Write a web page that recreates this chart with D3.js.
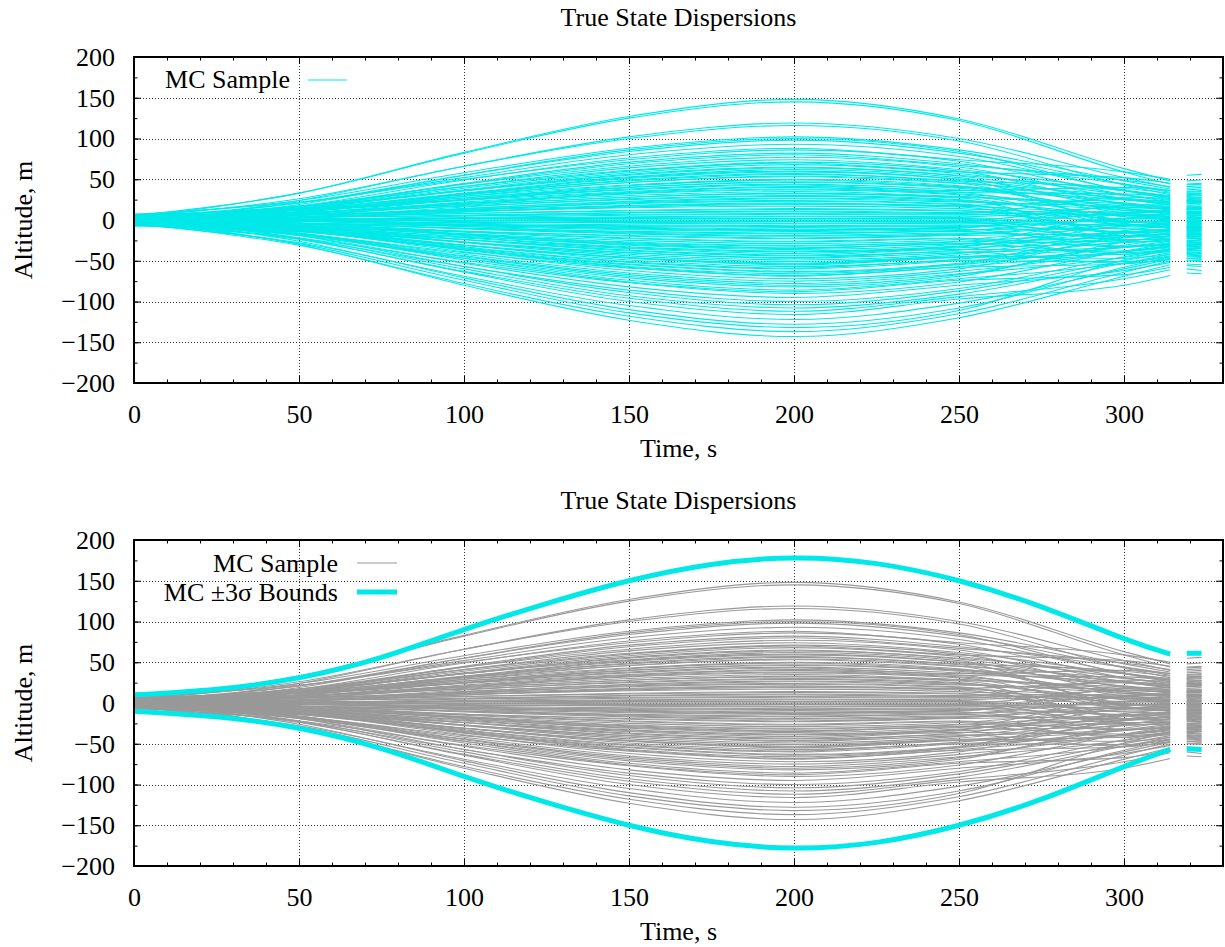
<!DOCTYPE html>
<html><head><meta charset="utf-8">
<script src="https://cdn.jsdelivr.net/npm/d3@7"></script>
<style>body{margin:0;background:#fff}svg{display:block}text{font-family:"Liberation Serif","DejaVu Serif",serif;font-size:26px;fill:#000}</style>
</head><body>
<script>
// ---- data ----
const knotTimes = [0, 50, 100, 150, 200, 250, 300, 314];
const tailTimes = [319, 323.5];
const sampleKnots = [
[3,33,83,127,148,124,63,48],[5,33,82,125,145,122,59,44],[-2,24,66,102,119,100,52,40],[4,26,66,100,116,97,43,31],
[6,24,58,88,102,86,48,38],[-4,19,55,86,100,84,36,26],[1,21,55,84,98,82,44,34],[7,22,50,74,86,72,31,22],
[-6,14,45,71,82,69,44,36],[2,17,44,66,77,65,26,18],[-1,15,41,64,74,62,36,29],[5,17,41,61,71,60,19,12],
[-3,13,37,58,68,57,31,24],[0,14,36,56,65,55,36,30],[6,16,36,53,62,52,14,8],[-5,10,32,51,59,50,26,20],
[2,13,32,48,56,47,20,14],[-2,10,29,46,53,45,30,25],[4,12,29,43,50,42,9,4],[-6,7,25,40,47,40,21,16],
[1,10,25,38,44,37,25,21],[7,12,24,35,41,34,4,0],[-4,6,20,33,38,32,14,10],[3,9,20,30,35,29,20,17],
[-1,6,18,28,32,27,-1,-4],[5,9,17,25,29,24,12,9],[-3,4,14,22,26,22,16,13],[2,6,13,20,23,19,-6,-8],
[-5,2,10,17,20,17,8,6],[6,7,11,15,17,14,5,3],[0,3,8,12,14,12,-11,-12],[-7,-1,5,9,11,9,6,5],
[4,4,5,7,8,7,-1,-2],[-2,0,2,4,5,4,11,11],[3,2,2,2,2,2,-15,-15],[-1,-1,-1,-2,-2,-2,7,7],
[5,1,-2,-4,-5,-4,-6,-6],[-6,-5,-6,-7,-8,-7,-21,-20],[2,-1,-6,-9,-11,-9,1,2],[-3,-4,-8,-12,-14,-12,-10,-9],
[7,0,-8,-15,-17,-14,-27,-25],[0,-4,-11,-17,-20,-17,-3,-1],[-5,-7,-14,-20,-23,-19,-16,-14],[3,-4,-14,-22,-26,-22,-33,-30],
[-2,-7,-17,-25,-29,-24,-8,-5],[6,-4,-17,-28,-32,-27,-21,-18],[-4,-9,-20,-30,-35,-29,-40,-36],[1,-8,-21,-33,-38,-32,-15,-11],
[-7,-12,-24,-35,-41,-34,-28,-24],[4,-7,-24,-38,-44,-37,-7,-3],[-1,-10,-27,-40,-47,-40,-33,-28],[2,-10,-28,-44,-51,-43,-21,-16],
[-6,-14,-31,-46,-54,-45,-47,-42],[5,-10,-31,-49,-57,-48,-26,-20],[-3,-14,-34,-52,-60,-50,-39,-33],[0,-13,-35,-54,-63,-53,-13,-7],
[3,-12,-36,-57,-66,-55,-33,-26],[-5,-17,-40,-59,-69,-58,-54,-47],[6,-12,-39,-62,-72,-60,-20,-13],[-2,-17,-42,-65,-75,-63,-39,-31],
[1,-16,-44,-67,-78,-66,-46,-38],[-4,-19,-47,-71,-82,-69,-27,-19],[4,-16,-47,-74,-86,-72,-53,-44],[-6,-22,-52,-77,-90,-76,-38,-29],
[2,-19,-53,-82,-95,-80,-62,-52],[-3,-23,-57,-86,-100,-84,-45,-35],[5,-19,-57,-89,-104,-87,-50,-40],[-1,-24,-63,-96,-112,-94,-72,-61],
[3,-23,-64,-100,-116,-97,-80,-68],[-5,-28,-69,-105,-122,-102,-60,-48],[2,-26,-71,-110,-128,-108,-58,-45],[-4,-31,-78,-118,-137,-115,-64,-50],
[1,-30,-80,-123,-143,-120,-69,-55],[-2,12,33,52,60,50,-4,-10],[5,12,25,37,43,36,40,36],[-6,3,16,26,30,25,-19,-22],
[1,3,6,9,10,8,28,27],[-2,-4,-7,-10,-12,-10,18,19],[4,-6,-19,-31,-36,-30,8,12],[-1,-12,-31,-47,-55,-46,-42,-37],
[-7,2,12,21,24,20,-25,-27],[-1,14,39,60,70,59,52,45],[3,-17,-49,-76,-88,-74,-67,-58],[-7,-13,-27,-40,-46,-39,-53,-48],
[-3,17,49,76,88,74,59,50],
[2,21,52,80,93,78,37,28],[-4,15,44,69,80,67,49,41],[3,15,36,55,64,54,25,19],[-6,9,31,49,57,48,39,33],
[5,14,31,46,54,45,-1,-6],[-1,10,27,42,49,41,27,22],[6,13,27,40,46,39,12,7],[-3,7,22,34,40,34,32,28],
[0,8,21,32,37,31,-6,-10],[4,9,19,28,33,28,18,15],[-7,2,14,23,27,23,6,3],[3,6,12,18,21,18,25,23],
[-2,3,10,16,19,16,-16,-18],[5,5,8,11,13,11,2,1],[-4,0,3,6,7,6,15,14],[1,1,2,3,4,3,-7,-7],
[-5,-2,0,1,1,1,-24,-24],[4,2,0,-1,-1,-1,16,16],[-6,-4,-3,-3,-4,-3,-2,-2],[2,0,-4,-6,-7,-6,-14,-13],
[-1,-2,-5,-8,-9,-8,9,10],[6,0,-6,-11,-13,-11,-32,-31],[-4,-5,-10,-14,-16,-13,2,4],[1,-4,-10,-16,-19,-16,-19,-17],
[-7,-8,-14,-19,-22,-18,-6,-4],[3,-4,-15,-23,-27,-23,-42,-39],[-2,-8,-18,-27,-31,-26,-15,-12],[5,-5,-18,-29,-34,-29,-25,-22],
[-3,-10,-22,-34,-39,-33,-4,0],[0,-9,-24,-37,-43,-36,-38,-34],[4,-8,-27,-42,-49,-41,-16,-11],[-5,-14,-31,-46,-53,-45,-34,-29],
[2,-11,-33,-51,-59,-50,-51,-45],[-1,-14,-36,-55,-64,-54,-22,-16],[6,-11,-37,-58,-68,-57,-39,-32],[-3,-18,-45,-69,-80,-67,-31,-23],
[1,-22,-60,-93,-108,-91,-53,-42],[-2,-29,-74,-114,-132,-111,-49,-36]
];
const sampleTails = [
[55,56],[44,45],[41,42],[33,33],[37,38],[27,28],[30,31],[24,24],[35,36],[20,21],[26,27],[14,14],[22,23],[31,32],[10,10],[18,19],
[16,16],[24,25],[6,6],[13,14],[20,21],[2,2],[8,9],[15,16],[-2,-2],[11,11],[12,13],[-6,-5],[4,5],[5,5],[-10,-10],[7,7],
[0,0],[9,10],[-13,-13],[6,6],[-4,-4],[-18,-19],[3,3],[-8,-8],[-23,-24],[-3,-3],[-12,-12],[-28,-29],[-7,-7],[-16,-17],[-34,-35],[-10,-10],
[-21,-22],[-5,-6],[-26,-27],[-15,-15],[-40,-41],[-19,-20],[-31,-32],[-9,-9],[-25,-25],[-45,-46],[-14,-14],[-30,-30],[-37,-38],[-18,-18],
[-43,-44],[-27,-28],[-50,-51],[-33,-34],[-39,-40],[-60,-62],[-65,-66],[-47,-48],[-44,-45],[-49,-50],[-54,-55],[-8,-8],[34,35],[-20,-20],
[25,26],[17,17],[10,11],[-36,-37],[-25,-26],[43,44],[-56,-57],[-47,-48],[48,49],
[29,30],[39,40],[21,22],[32,33],[-4,-4],[23,23],[9,9],[28,28],[-9,-9],[14,15],[2,3],[22,22],[-17,-17],[1,2],[13,13],[-6,-6],
[-22,-23],[15,15],[-1,-1],[-11,-11],[8,8],[-29,-30],[1,1],[-15,-16],[-2,-2],[-38,-38],[-13,-13],[-20,-21],[-2,-1],[-32,-33],[-11,-12],[-28,-28],
[-42,-43],[-17,-17],[-31,-31],[-22,-23],[-41,-42],[-35,-35]
];
const boundTimes = [0, 25, 50, 75, 100, 125, 150, 175, 200, 225, 250, 275, 300, 314];
const upperBound = [10, 17, 31, 56, 90, 122, 150, 170, 178, 171, 150, 118, 79, 60];
const lowerBound = [-10, -17, -31, -56, -90, -122, -150, -170, -178, -171, -150, -118, -78, -57];
const upperBoundTail = [61, 61];
const lowerBoundTail = [-56, -57];
const xMajorTicks = [0, 50, 100, 150, 200, 250, 300];
const xMinorTicks = d3.range(0, 331, 10);
const yMajorTicks = [-200, -150, -100, -50, 0, 50, 100, 150, 200];
const yMinorTicks = d3.range(-200, 201, 25);
const titleText = "True State Dispersions";
const xLabel = "Time, s";
const yLabel = "Altitude, m";

// ---- layout ----
const W = 1225, H = 947;
const CYAN = "#00e8e8", GRAY = "#999999";
const svg = d3.select("body").append("svg").attr("width", W).attr("height", H);
const x = d3.scaleLinear().domain([0, 330]).range([134, 1223]);

function panel(top, bottom, idx) {
  const y = d3.scaleLinear().domain([-200, 200]).range([bottom, top]);
  const g = svg.append("g");
  const cid = "clip" + idx;
  g.append("clipPath").attr("id", cid).append("rect")
    .attr("x", x(0)).attr("y", top).attr("width", x(330) - x(0)).attr("height", bottom - top);
  // grid
  const grid = g.append("g").attr("stroke", "#333").attr("stroke-width", 1).attr("stroke-dasharray", "1,2");
  grid.selectAll(".gx").data(xMajorTicks.filter(d => d > 0)).join("line")
    .attr("x1", d => Math.round(x(d)) + 0.5).attr("x2", d => Math.round(x(d)) + 0.5)
    .attr("y1", top).attr("y2", bottom);
  grid.selectAll(".gy").data(yMajorTicks.filter(d => d > -200 && d < 200)).join("line")
    .attr("y1", d => Math.round(y(d)) + 0.5).attr("y2", d => Math.round(y(d)) + 0.5)
    .attr("x1", x(0)).attr("x2", x(330));
  // axes ticks
  const mk = (axis, tr) => {
    const a = g.append("g").attr("transform", tr).call(axis);
    a.select(".domain").remove();
    a.selectAll("line").attr("stroke", "#000");
    a.attr("font-family", null).attr("font-size", null);
    return a;
  };
  mk(d3.axisBottom(x).tickValues(xMajorTicks).tickSize(-7).tickPadding(22).tickFormat(d3.format("d")), `translate(0,${bottom})`);
  mk(d3.axisBottom(x).tickValues(xMinorTicks).tickSize(-3.5).tickFormat(""), `translate(0,${bottom})`);
  mk(d3.axisTop(x).tickValues(xMajorTicks).tickSize(-7).tickFormat(""), `translate(0,${top})`);
  mk(d3.axisTop(x).tickValues(xMinorTicks).tickSize(-3.5).tickFormat(""), `translate(0,${top})`);
  mk(d3.axisLeft(y).tickValues(yMajorTicks).tickSize(-7).tickPadding(19).tickFormat(d3.format("d")), `translate(${x(0)},0)`);
  mk(d3.axisLeft(y).tickValues(yMinorTicks).tickSize(-3.5).tickFormat(""), `translate(${x(0)},0)`);
  mk(d3.axisRight(y).tickValues(yMajorTicks).tickSize(-7).tickFormat(""), `translate(${x(330)},0)`);
  mk(d3.axisRight(y).tickValues(yMinorTicks).tickSize(-3.5).tickFormat(""), `translate(${x(330)},0)`);

  // data
  const data = g.append("g").attr("clip-path", `url(#${cid})`);
  const line = d3.line().x(d => x(d[0])).y(d => y(d[1])).curve(d3.curveMonotoneX);
  const smooth = d3.line().x(d => x(d[0])).y(d => y(d[1])).curve(d3.curveNatural);
  const straight = d3.line().x(d => x(d[0])).y(d => y(d[1]));
  const color = idx === 0 ? CYAN : GRAY;
  data.selectAll(".s").data(sampleKnots).join("path")
    .attr("fill", "none").attr("stroke", color).attr("stroke-width", 1.1)
    .attr("d", vals => line(knotTimes.map((t, i) => [t, vals[i]])));
  data.selectAll(".t").data(sampleTails).join("path")
    .attr("fill", "none").attr("stroke", color).attr("stroke-width", 1.1)
    .attr("d", vals => straight(tailTimes.map((t, i) => [t, vals[i]])));
  if (idx === 1) {
    [upperBound, lowerBound].forEach(b => {
      data.append("path").attr("fill", "none").attr("stroke", CYAN).attr("stroke-width", 5)
        .attr("d", smooth(boundTimes.map((t, i) => [t, b[i]])));
    });
    [upperBoundTail, lowerBoundTail].forEach(b => {
      data.append("path").attr("fill", "none").attr("stroke", CYAN).attr("stroke-width", 5)
        .attr("d", straight(tailTimes.map((t, i) => [t, b[i]])));
    });
  }
  // border
  g.append("rect").attr("x", x(0)).attr("y", top).attr("width", x(330) - x(0)).attr("height", bottom - top)
    .attr("fill", "none").attr("stroke", "#000").attr("stroke-width", 2);
  // titles
  const cx = (x(0) + x(330)) / 2;
  g.append("text").attr("x", cx).attr("y", top - 31).attr("text-anchor", "middle").text(titleText);
  g.append("text").attr("x", cx).attr("y", bottom + 74).attr("text-anchor", "middle").text(xLabel);
  g.append("text").attr("transform", `translate(32,${(top + bottom) / 2}) rotate(-90)`).attr("text-anchor", "middle").text(yLabel);
  // legend
  if (idx === 0) {
    g.append("text").attr("x", 290).attr("y", top + 31).attr("text-anchor", "end").text("MC Sample");
    g.append("line").attr("x1", 308).attr("x2", 347).attr("y1", top + 23).attr("y2", top + 23)
      .attr("stroke", CYAN).attr("stroke-width", 1);
  } else {
    g.append("text").attr("x", 338).attr("y", top + 32).attr("text-anchor", "end").text("MC Sample");
    g.append("line").attr("x1", 357).attr("x2", 397).attr("y1", top + 23).attr("y2", top + 23)
      .attr("stroke", GRAY).attr("stroke-width", 1);
    g.append("text").attr("x", 338).attr("y", top + 61).attr("text-anchor", "end").text("MC \u00b13\u03c3 Bounds");
    g.append("line").attr("x1", 357).attr("x2", 397).attr("y1", top + 52).attr("y2", top + 52)
      .attr("stroke", CYAN).attr("stroke-width", 5);
  }
}
panel(57, 383, 0);
panel(540, 866, 1);
</script>
</body></html>
